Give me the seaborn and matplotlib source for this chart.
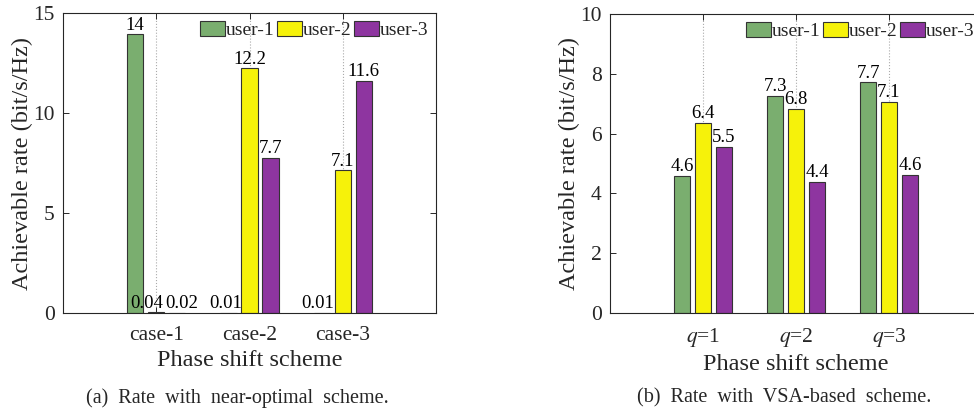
import pandas as pd
import matplotlib.pyplot as plt
import seaborn as sns

# data
users = ["user-1", "user-2", "user-3"]
cases_a = ["case-1", "case-2", "case-3"]
rate_a_user1 = [13.93, 0.01, 0.01]
rate_a_user2 = [0.04, 12.23, 7.13]
rate_a_user3 = [0.02, 7.75, 11.62]
labels_a_user1 = ["14", "0.01", "0.01"]
labels_a_user2 = ["0.04", "12.2", "7.1"]
labels_a_user3 = ["0.02", "7.7", "11.6"]

cases_b = ["$q$=1", "$q$=2", "$q$=3"]
rate_b_user1 = [4.59, 7.27, 7.71]
rate_b_user2 = [6.36, 6.83, 7.07]
rate_b_user3 = [5.55, 4.38, 4.63]
labels_b_user1 = ["4.6", "7.3", "7.7"]
labels_b_user2 = ["6.4", "6.8", "7.1"]
labels_b_user3 = ["5.5", "4.4", "4.6"]

colors = ["#7aae6f", "#f6f20a", "#8e35a0"]
ink = "#262626"

sns.set_style("ticks")
plt.rcParams['font.family'] = ['Liberation Serif', 'DejaVu Serif']
plt.rcParams['mathtext.fontset'] = 'stix'
plt.rcParams['text.color'] = ink
plt.rcParams['axes.labelcolor'] = ink
plt.rcParams['xtick.color'] = ink
plt.rcParams['ytick.color'] = ink


def long_form(cases, r1, r2, r3):
    rows = []
    for user, vals in zip(users, [r1, r2, r3]):
        for c, v in zip(cases, vals):
            rows.append({"case": c, "user": user, "rate": v})
    return pd.DataFrame(rows)


def draw(ax, df, cases, labels, ymax, yticks, ylabelpad, nudges=None):
    sns.barplot(data=df, x="case", y="rate", hue="user", order=cases,
                hue_order=users, palette=colors, width=0.675, gap=0.22,
                edgecolor="#333333", linewidth=0.8, saturation=1,
                errorbar=None, ax=ax, zorder=2)
    for i, (cont, lab) in enumerate(zip(ax.containers, labels)):
        texts = ax.bar_label(cont, labels=lab, padding=0.5, fontsize=13.5,
                             color="black")
        if nudges:
            for j, t in enumerate(texts):
                dx = nudges.get((i, j), 0)
                if dx:
                    t.xyann = (dx, 0.5)
    ax.set_xlim(-1, 3)
    ax.set_ylim(0, ymax)
    ax.set_yticks(yticks)
    ax.xaxis.grid(True, linestyle=":", color="#aaaaaa", linewidth=0.8, zorder=0)
    ax.set_axisbelow(True)
    ax.tick_params(direction="in", top=True, right=True, length=4,
                   labelsize=15.5, width=0.7)
    ax.tick_params(axis="x", pad=9)
    ax.tick_params(axis="y", pad=6)
    for sp in ax.spines.values():
        sp.set_visible(True)
        sp.set_color(ink)
        sp.set_linewidth(0.8)
    ax.set_xlabel("Phase shift scheme", fontsize=17.5, labelpad=4)
    ax.set_ylabel("Achievable rate (bit/s/Hz)", fontsize=17.5, labelpad=ylabelpad)
    handles, names = ax.get_legend_handles_labels()
    ax.legend(handles, names, loc="upper right", ncol=3, frameon=False,
              fontsize=14, handlelength=1.25, handleheight=0.8,
              handletextpad=0.05, columnspacing=0.15, borderaxespad=0.2,
              borderpad=0.2)


fig = plt.figure(figsize=(9.74, 4.11), dpi=100)
ax_a = fig.add_axes([63 / 974, 98 / 411, 373 / 974, 300 / 411])
ax_b = fig.add_axes([610 / 974, 98 / 411, 372 / 974, 299 / 411])

draw(ax_a, long_form(cases_a, rate_a_user1, rate_a_user2, rate_a_user3), cases_a,
     [labels_a_user1, labels_a_user2, labels_a_user3], 15, [0, 5, 10, 15],
     ylabelpad=0, nudges={(1, 0): -7, (2, 0): 3.5, (0, 1): -2, (0, 2): -3})
draw(ax_b, long_form(cases_b, rate_b_user1, rate_b_user2, rate_b_user3), cases_b,
     [labels_b_user1, labels_b_user2, labels_b_user3], 10, [0, 2, 4, 6, 8, 10],
     ylabelpad=0)

fig.text(237 / 974, 1 - 398 / 411, "(a)  Rate  with  near-optimal  scheme.",
         ha="center", va="center", fontsize=14.5)
fig.text(784 / 974, 1 - 398 / 411, "(b)  Rate  with  VSA-based  scheme.",
         ha="center", va="center", fontsize=14.5)

fig.savefig("out.png", dpi=100)
